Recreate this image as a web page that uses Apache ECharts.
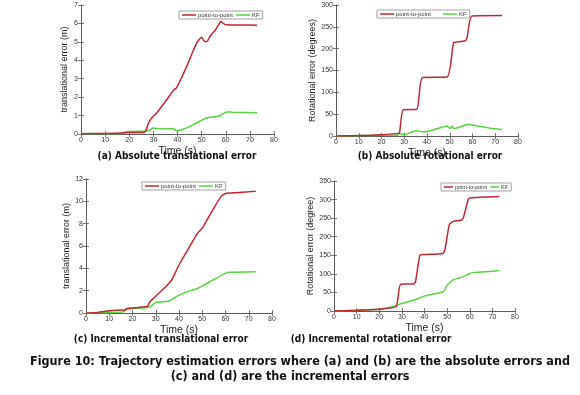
<!DOCTYPE html>
<html>
<head>
<meta charset="utf-8">
<script src="https://cdn.jsdelivr.net/npm/echarts@6/dist/echarts.min.js"></script>
<style>
  html, body { margin: 0; padding: 0; background: #fff; }
  #chart { width: 580px; height: 395px; }
</style>
</head>
<body>
<div id="chart"></div>
<script>
// (a) absolute translational error
var aP2PTime = [0, 10, 17, 20, 25.8, 26.8, 28, 29.3, 31.4, 35.5, 38.5, 39.6, 43.8, 47.9, 50, 51, 52, 54, 55.5, 57.6, 57.9, 59, 60, 65, 73]
var aP2P = [0.02, 0.03, 0.05, 0.08, 0.08, 0.15, 0.6, 0.87, 1.14, 1.86, 2.4, 2.5, 3.66, 4.93, 5.25, 5.05, 5.0, 5.4, 5.6, 6.05, 6.1, 6.0, 5.93, 5.92, 5.9]
var aKFTime = [0, 10, 17, 18, 20, 26.8, 28.6, 30, 31, 37, 38, 39.6, 41.7, 45, 49, 52, 57, 58.3, 60.4, 63, 73]
var aKF = [0.02, 0.02, 0.03, 0.1, 0.14, 0.15, 0.23, 0.33, 0.3, 0.28, 0.28, 0.18, 0.23, 0.4, 0.68, 0.87, 0.96, 1.05, 1.2, 1.18, 1.15]

// (b) absolute rotational error
var bP2PTime = [0, 10, 20, 27.5, 28, 29.6, 35.5, 38, 48.8, 51.7, 53, 56.8, 57.6, 59.8, 73]
var bP2P = [0, 1, 3, 6, 10, 60, 61, 134, 135, 214, 215, 218, 225, 275, 276]
var bKFTime = [0, 10, 20, 27, 28, 30, 33, 35.5, 37.7, 41.4, 48.8, 50.2, 51, 51.7, 54.6, 58.3, 59.8, 67.8, 73]
var bKF = [0, 1, 2, 2, 6, 3, 8, 12, 10, 12, 23, 17, 23, 17, 21, 27, 25, 18, 15]

// (c) incremental translational error
var cP2PTime = [0, 5, 10, 15, 16.5, 17.5, 20, 25, 26.5, 27.5, 30, 35, 37, 40, 45, 48, 50, 55, 58, 60, 62, 70, 73]
var cP2P = [0, 0.05, 0.2, 0.27, 0.25, 0.4, 0.45, 0.55, 0.6, 1.0, 1.5, 2.5, 3.0, 4.3, 6.1, 7.15, 7.6, 9.4, 10.4, 10.7, 10.75, 10.85, 10.9]
var cKFTime = [0, 10, 16, 17.5, 20, 25, 26.5, 28, 30, 33, 36, 40, 45, 48, 50, 55, 60, 62, 73]
var cKF = [0, 0.05, 0.1, 0.3, 0.4, 0.45, 0.5, 0.6, 0.95, 1.0, 1.1, 1.6, 2.0, 2.2, 2.4, 3.0, 3.55, 3.65, 3.7]

// (d) incremental rotational error
var dP2PTime = [0, 10, 20, 25, 27.5, 28, 29.5, 35, 36, 38, 40, 48, 49, 51, 53, 56.5, 57.5, 59.5, 61, 73]
var dP2P = [0, 2, 5, 8, 12, 24, 72, 73, 78, 150, 152, 155, 164, 233, 242, 245, 258, 303, 305, 308]
var dKFTime = [0, 10, 20, 25, 27, 30, 35, 40, 45, 48, 49, 50, 51.5, 53, 57, 60, 62, 70, 73]
var dKF = [0, 2, 5, 10, 14, 20, 29, 40, 47, 51, 57, 69, 78, 85, 92, 101, 104, 107, 109]

var panelTitles = [
  '(a) Absolute translational error',
  '(b) Absolute rotational error',
  '(c) Incremental translational error',
  '(d) Incremental rotational error'
]
var yNames = ['translational error (m)', 'Rotational error (degrees)', 'translational error (m)', 'Rotational error (degree)']
var yMax = [7, 300, 12, 350]
var yStep = [1, 50, 2, 50]

var red = '#c3262f'
var green = '#55d43f'
var grids = [
  { left: 81, top: 5, width: 193, height: 129 },
  { left: 336, top: 5, width: 182, height: 131 },
  { left: 86, top: 179, width: 186, height: 134 },
  { left: 334, top: 181, width: 181, height: 130 }
]

function zip(t, v) {
  return t.map(function (x, i) { return [x, v[i]] })
}

var chart = echarts.init(document.getElementById('chart'))

var xAxes = []
var yAxes = []
var series = []
var legends = []
var legendBoxes = [
  { left: 179, top: 11, itemGap: 3, itemWidth: 14, fontSize: 6 },
  { left: 377, top: 10, itemGap: 12, itemWidth: 14, fontSize: 6 },
  { left: 142, top: 182, itemGap: 3, itemWidth: 14, fontSize: 6 },
  { left: 441, top: 183, itemGap: 3, itemWidth: 9, fontSize: 5.5 }
]
var p2pData = [zip(aP2PTime, aP2P), zip(bP2PTime, bP2P), zip(cP2PTime, cP2P), zip(dP2PTime, dP2P)]
var kfData = [zip(aKFTime, aKF), zip(bKFTime, bKF), zip(cKFTime, cKF), zip(dKFTime, dKF)]

var tickStyle = { show: true, inside: true, length: 3, lineStyle: { color: '#555', width: 0.8 } }
var lineStyle = { color: '#555', width: 0.8 }
var labelStyle = { fontSize: 7, color: '#333', fontFamily: 'Liberation Sans', margin: 3 }

for (var i = 0; i < 4; i++) {
  xAxes.push({
    gridIndex: i, type: 'value', min: 0, max: 80, interval: 10,
    name: 'Time (s)', nameLocation: 'middle', nameGap: 12,
    nameTextStyle: { fontSize: 10.5, color: '#222', fontFamily: 'Liberation Sans' },
    axisLine: { lineStyle: lineStyle }, axisTick: tickStyle,
    axisLabel: labelStyle, splitLine: { show: false }
  })
  xAxes.push({
    gridIndex: i, type: 'value', min: 0, max: 80, interval: 10, position: 'top',
    axisLine: { lineStyle: lineStyle }, axisTick: tickStyle,
    axisLabel: { show: false }, splitLine: { show: false }
  })
  yAxes.push({
    gridIndex: i, type: 'value', min: 0, max: yMax[i], interval: yStep[i],
    name: yNames[i], nameLocation: 'middle', nameGap: i % 2 === 0 ? 12 : 17,
    nameTextStyle: { fontSize: 9, color: '#222', fontFamily: 'Liberation Sans' },
    axisLine: { show: true, lineStyle: lineStyle }, axisTick: tickStyle,
    axisLabel: labelStyle, splitLine: { show: false }
  })
  yAxes.push({
    gridIndex: i, type: 'value', min: 0, max: yMax[i], interval: yStep[i], position: 'right',
    axisLine: { show: true, lineStyle: lineStyle }, axisTick: tickStyle,
    axisLabel: { show: false }, splitLine: { show: false }
  })
  series.push({
    name: 'point-to-point', type: 'line', xAxisIndex: i * 2, yAxisIndex: i * 2,
    data: p2pData[i], showSymbol: false, smooth: 0.2, z: 3,
    lineStyle: { color: red, width: 1.5 }, itemStyle: { color: red }
  })
  series.push({
    name: 'KF', type: 'line', xAxisIndex: i * 2, yAxisIndex: i * 2,
    data: kfData[i], showSymbol: false, smooth: 0.2, z: 2,
    lineStyle: { color: green, width: 1.5 }, itemStyle: { color: green }
  })
  legends.push({
    left: legendBoxes[i].left, top: legendBoxes[i].top,
    data: ['point-to-point', 'KF'],
    icon: 'rect', itemWidth: legendBoxes[i].itemWidth, itemHeight: 1.5, itemGap: legendBoxes[i].itemGap,
    padding: [1, 3], borderColor: '#888', borderWidth: 0.8,
    textStyle: { fontSize: legendBoxes[i].fontSize, color: '#333', fontFamily: 'Liberation Sans', padding: [0, 0, 0, -3] },
    selectedMode: false
  })
}

var titles = [
  { text: panelTitles[0], left: 177, top: 151 },
  { text: panelTitles[1], left: 430, top: 151 },
  { text: panelTitles[2], left: 161, top: 334 },
  { text: panelTitles[3], left: 371, top: 334 },
  { text: 'Figure 10: Trajectory estimation errors where (a) and (b) are the absolute errors and', left: 300, top: 355 },
  { text: '(c) and (d) are the incremental errors', left: 290, top: 370 }
].map(function (t, k) {
  return {
    text: t.text, left: t.left, top: t.top, textAlign: 'center', padding: 0,
    textStyle: {
      fontSize: k < 4 ? 10 : 12.5, fontWeight: 'bold', color: '#111',
      fontFamily: 'DejaVu Sans Condensed, Liberation Sans'
    }
  }
})

chart.setOption({
  animation: false,
  title: titles,
  grid: grids,
  legend: legends,
  xAxis: xAxes,
  yAxis: yAxes,
  series: series
})
</script>
</body>
</html>
